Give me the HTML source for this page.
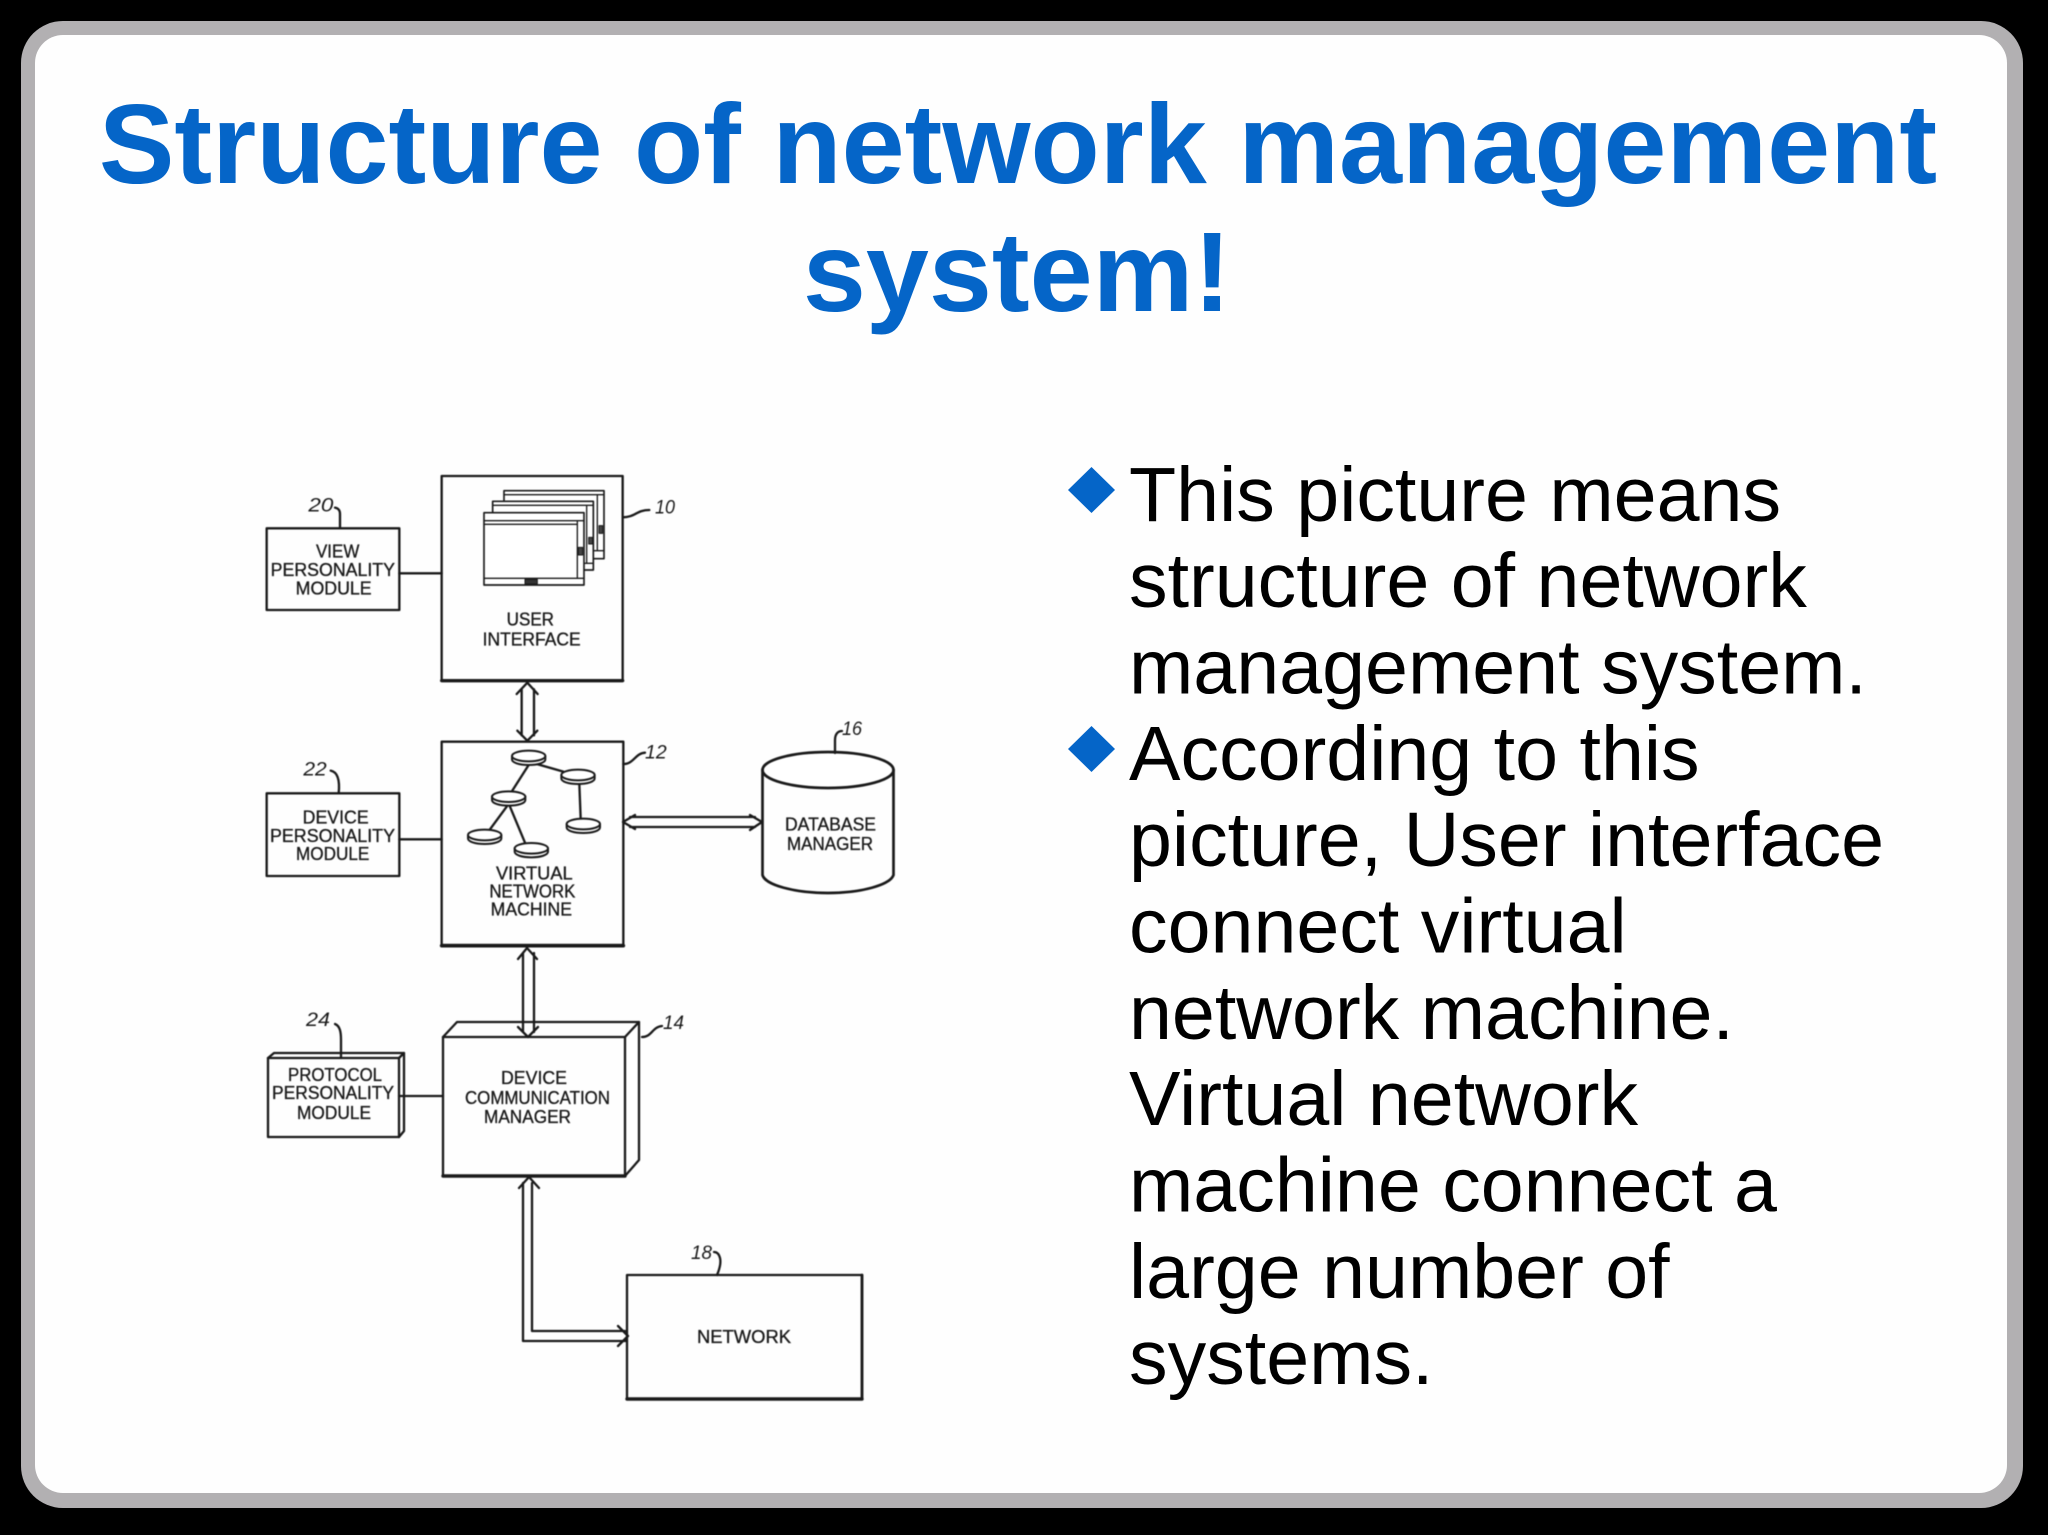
<!DOCTYPE html>
<html><head><meta charset="utf-8"><title>Structure of network management system!</title>
<style>
html,body{margin:0;padding:0;background:#000;width:2048px;height:1535px;overflow:hidden}
svg{display:block}
.ti{font-family:"Liberation Sans",sans-serif;font-weight:700;font-size:113.3px;fill:#0565c8}
.bd{font-family:"Liberation Sans",sans-serif;font-size:77.2px;fill:#000}
.a{font-family:"Liberation Sans",sans-serif;fill:#1a1a1a;font-size:55px;stroke:#1a1a1a;stroke-width:1}
.r{font-family:"Liberation Sans",sans-serif;fill:#1a1a1a;font-size:18.4px;stroke:#1a1a1a;stroke-width:.33}
.n{font-family:"Liberation Sans",sans-serif;font-style:italic;fill:#1a1a1a}
.l{fill:none;stroke:#1a1a1a;stroke-linejoin:round;stroke-linecap:round}
.d{filter:blur(.45px)}
</style></head><body>
<svg xmlns="http://www.w3.org/2000/svg" width="2048" height="1535" viewBox="0 0 2048 1535">
<rect width="2048" height="1535" fill="#000"/>
<rect x="21" y="21" width="2002" height="1487" rx="42" fill="#b2b0b2"/>
<rect x="35" y="35" width="1972" height="1458" rx="28" fill="#fefefe"/>

<text class="ti" x="1018" y="183" text-anchor="middle">Structure of network management</text>
<text class="ti" x="1017" y="311" text-anchor="middle">system!</text>

<polygon points="1091.5,467 1115,490 1091.5,513 1068,490" fill="#0565c8"/>
<polygon points="1091.5,726 1115,749 1091.5,772 1068,749" fill="#0565c8"/>
<g class="bd">
<text x="1129" y="521">This picture means</text>
<text x="1129" y="607">structure of network</text>
<text x="1129" y="693.5">management system.</text>
<text x="1129" y="780">According to this</text>
<text x="1129" y="866">picture, User interface</text>
<text x="1129" y="952.5">connect virtual</text>
<text x="1129" y="1039">network machine.</text>
<text x="1129" y="1125">Virtual network</text>
<text x="1129" y="1211.5">machine connect a</text>
<text x="1129" y="1298">large number of</text>
<text x="1129" y="1384">systems.</text>
</g>

<g class="d">
<!-- upper diagram, authored at 3x -->
<g transform="translate(240,460) scale(.33333)">
<g class="l" stroke-width="7">
<rect x="80" y="205" width="398" height="245"/>
<path d="M478 340H605" />
<rect x="605" y="48" width="543" height="614"/>
<path d="M605 662H1148" stroke-width="10"/>
<path d="M300 205V162C300 150 295 145 285 143"/>
<path d="M1148 172C1185 172 1190 150 1228 150"/>
<rect x="792" y="92" width="300" height="204" fill="#fff" stroke-width="5"/>
<path d="M792 104H1092M1072 104V272M1062 272H1092" stroke-width="4"/>
<rect x="1077" y="197" width="11" height="23" fill="#444" stroke-width="3"/>
<rect x="758" y="124" width="302" height="206" fill="#fff" stroke-width="5"/>
<path d="M758 136H1060M1040 136V310M1030 310H1060" stroke-width="4"/>
<rect x="1046" y="232" width="12" height="20" fill="#444" stroke-width="3"/>
<rect x="732" y="158" width="300" height="217" fill="#fff" stroke-width="5"/>
<path d="M732 182H1032M732 193H1012M1012 182V355M732 355H1032" stroke-width="4"/>
<rect x="1015" y="262" width="13" height="23" fill="#444" stroke-width="3"/>
<rect x="855" y="358" width="37" height="14" fill="#333" stroke-width="3"/>

<path d="M830 702L862 668L893 702M845 688V826M882 688V826M832 812L862 842L892 812"/>
<rect x="605" y="845" width="545" height="610"/>
<path d="M605 1457H1150" stroke-width="11"/>
<rect x="80" y="1000" width="398" height="248"/>
<path d="M478 1138H605"/>
<path d="M296 1000C300 960 292 936 272 932"/>
<path d="M1150 912C1182 912 1185 880 1215 878"/>

<path d="M866 915L815 995M890 912L970 935M1018 972L1022 1075M800 1040L750 1108M810 1040L855 1148"/>
<g fill="#fff" stroke-width="6">
<path d="M816 888v10c0 10 22 17 50 17s50-7 50-17v-10"/><ellipse cx="866" cy="888" rx="50" ry="16"/>
<path d="M964 945v10c0 10 22 17 50 17s50-7 50-17v-10"/><ellipse cx="1014" cy="945" rx="50" ry="16"/>
<path d="M756 1010v10c0 10 22 17 50 17s50-7 50-17v-10"/><ellipse cx="806" cy="1010" rx="50" ry="16"/>
<path d="M684 1125v10c0 10 22 17 50 17s50-7 50-17v-10"/><ellipse cx="734" cy="1125" rx="50" ry="16"/>
<path d="M824 1165v10c0 10 22 17 50 17s50-7 50-17v-10"/><ellipse cx="874" cy="1165" rx="50" ry="16"/>
<path d="M980 1092v10c0 10 22 17 50 17s50-7 50-17v-10"/><ellipse cx="1030" cy="1092" rx="50" ry="16"/>
</g>
</g>
<text class="a" x="228" y="293" textLength="130" lengthAdjust="spacingAndGlyphs">VIEW</text>
<text class="a" x="92" y="348" textLength="373" lengthAdjust="spacingAndGlyphs">PERSONALITY</text>
<text class="a" x="167" y="403" textLength="228" lengthAdjust="spacingAndGlyphs">MODULE</text>
<text class="a" x="800" y="497" textLength="142" lengthAdjust="spacingAndGlyphs">USER</text>
<text class="a" x="728" y="556" textLength="294" lengthAdjust="spacingAndGlyphs">INTERFACE</text>
<text class="a" x="188" y="1090" textLength="198" lengthAdjust="spacingAndGlyphs">DEVICE</text>
<text class="a" x="90" y="1146" textLength="375" lengthAdjust="spacingAndGlyphs">PERSONALITY</text>
<text class="a" x="168" y="1200" textLength="220" lengthAdjust="spacingAndGlyphs">MODULE</text>
<text class="a" x="768" y="1258" textLength="230" lengthAdjust="spacingAndGlyphs">VIRTUAL</text>
<text class="a" x="748" y="1313" textLength="258" lengthAdjust="spacingAndGlyphs">NETWORK</text>
<text class="a" x="752" y="1367" textLength="244" lengthAdjust="spacingAndGlyphs">MACHINE</text>
<text class="n" font-size="58" x="205" y="155" textLength="75" lengthAdjust="spacingAndGlyphs">20</text>
<text class="n" font-size="58" x="1245" y="160" textLength="60" lengthAdjust="spacingAndGlyphs">10</text>
<text class="n" font-size="58" x="1215" y="895" textLength="65" lengthAdjust="spacingAndGlyphs">12</text>
<text class="n" font-size="58" x="190" y="947" textLength="70" lengthAdjust="spacingAndGlyphs">22</text>
</g>

<!-- lower diagram and database, real coordinates -->
<g class="l" stroke-width="2.300">
<path d="M518 959L527 948L537 959M523 953V1032M534 953V1032M518 1027L528 1037L538 1027"/>
<rect x="268" y="1058" width="131" height="79"/>
<path d="M268 1058L274 1053H404V1131L399 1137M399 1058L404 1053"/>
<path d="M399 1096H443"/>
<rect x="443" y="1037" width="182" height="139"/>
<path d="M443 1176H625" stroke-width="3.400"/>
<path d="M443 1037L457 1022H639V1160L625 1176M625 1037L639 1022"/>
<path d="M642 1037C652 1037 652 1027 662 1026"/>
<path d="M341 1058V1040C341 1032 340 1026 335 1024"/>
<path d="M717 1275C720 1268 721 1262 720 1258C719 1254 717 1252 714 1252"/>
<path d="M519 1188L529 1177L539 1188M523 1183V1341H627M532 1183V1331H625M618 1326L628 1336L618 1346"/>
<rect x="627" y="1275" width="235" height="124"/>
<path d="M627 1399H862" stroke-width="3.400"/>
<path d="M862 1275V1399" stroke-width="2.800"/>
<ellipse cx="828" cy="770" rx="65.500" ry="18" fill="#fff" stroke-width="2.700"/>
<path d="M762.500 770V875C765 885 795 893 828 893C861 893 890 885 893.500 875V770" stroke-width="2.700"/>
<path d="M635 815L623 822L635 829M630 817H755M630 827H755M750 815L762 822L750 830"/>
<path d="M835 753V740C835 734 838 731 842 731"/>
</g>
<g class="r">
<text x="288" y="1081" textLength="94" lengthAdjust="spacingAndGlyphs">PROTOCOL</text>
<text x="272" y="1099" textLength="122" lengthAdjust="spacingAndGlyphs">PERSONALITY</text>
<text x="297" y="1119" textLength="74" lengthAdjust="spacingAndGlyphs">MODULE</text>
<text x="501" y="1084" textLength="66" lengthAdjust="spacingAndGlyphs">DEVICE</text>
<text x="465" y="1104" textLength="145" lengthAdjust="spacingAndGlyphs">COMMUNICATION</text>
<text x="484" y="1123" textLength="87" lengthAdjust="spacingAndGlyphs">MANAGER</text>
<text x="697" y="1343" textLength="94" lengthAdjust="spacingAndGlyphs">NETWORK</text>
<text x="785" y="830.500" textLength="91" lengthAdjust="spacingAndGlyphs">DATABASE</text>
<text x="787" y="850" textLength="86" lengthAdjust="spacingAndGlyphs">MANAGER</text>
</g>
<g class="n" font-size="19">
<text x="306" y="1026" textLength="24" lengthAdjust="spacingAndGlyphs">24</text>
<text x="663" y="1029" textLength="21" lengthAdjust="spacingAndGlyphs">14</text>
<text x="691" y="1259" textLength="21" lengthAdjust="spacingAndGlyphs">18</text>
<text x="842" y="735" textLength="20" lengthAdjust="spacingAndGlyphs">16</text>
</g>
</g>
</svg>
</body></html>
